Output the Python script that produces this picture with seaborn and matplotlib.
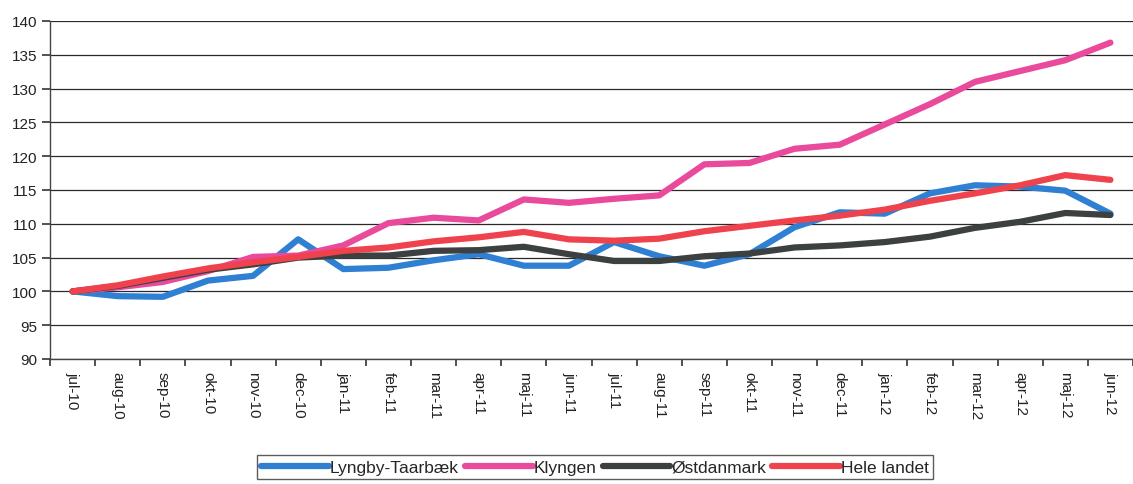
import pandas as pd
import matplotlib.pyplot as plt
import seaborn as sns

# Måneder jul-10 .. jun-12
maaneder = ["jul-10", "aug-10", "sep-10", "okt-10", "nov-10", "dec-10",
            "jan-11", "feb-11", "mar-11", "apr-11", "maj-11", "jun-11",
            "jul-11", "aug-11", "sep-11", "okt-11", "nov-11", "dec-11",
            "jan-12", "feb-12", "mar-12", "apr-12", "maj-12", "jun-12"]

lyngby = [100, 99.3, 99.2, 101.6, 102.3, 107.7, 103.3, 103.5, 104.6, 105.5, 103.8, 103.8,
          107.3, 105.2, 103.8, 105.5, 109.5, 111.7, 111.5, 114.5, 115.7, 115.5, 114.9, 111.5]
klyngen = [100, 100.6, 101.4, 103.0, 105.1, 105.3, 106.8, 110.1, 110.9, 110.5, 113.6, 113.1,
           113.7, 114.2, 118.8, 119.0, 121.1, 121.7, 124.7, 127.7, 131.0, 132.6, 134.2, 136.8]
oestdanmark = [100, 100.8, 102.0, 103.2, 104.0, 105.0, 105.3, 105.3, 106.0, 106.1, 106.6, 105.5,
               104.5, 104.5, 105.2, 105.6, 106.5, 106.8, 107.3, 108.1, 109.4, 110.3, 111.6, 111.3]
hele_landet = [100, 100.9, 102.2, 103.4, 104.3, 105.1, 106.0, 106.5, 107.4, 108.0, 108.8, 107.7,
               107.5, 107.8, 108.9, 109.7, 110.5, 111.2, 112.1, 113.4, 114.5, 115.7, 117.2, 116.5]

serier = {"Lyngby-Taarbæk": lyngby, "Klyngen": klyngen,
          "Østdanmark": oestdanmark, "Hele landet": hele_landet}
farver = {"Lyngby-Taarbæk": "#2f7fd3", "Klyngen": "#ea4a9c",
          "Østdanmark": "#3d4040", "Hele landet": "#f0424c"}

rows = []
for navn, vaerdier in serier.items():
    for i, v in enumerate(vaerdier):
        rows.append({"pos": i, "vaerdi": v, "serie": navn})
df = pd.DataFrame(rows)

sns.set_style("white")
plt.rcParams["font.family"] = ["Liberation Sans", "DejaVu Sans"]

fig = plt.figure(figsize=(11.33, 4.85), dpi=100)
ax = fig.add_axes([50 / 1133, 1 - 360 / 485, 1 - 50 / 1133, (360 - 22) / 485])

sns.lineplot(data=df, x="pos", y="vaerdi", hue="serie", palette=farver,
             linewidth=4.5, ax=ax, legend=False, zorder=3)

# akser
ax.set_ylim(90, 140)
ax.set_yticks(range(90, 141, 5))
ax.set_xlim(-0.5, 23.22)
ax.set_xticks(range(len(maaneder)))
ax.set_xticklabels(maaneder, rotation=-90, fontsize=11, color="#222222")
ax.set_xticks([i - 0.5 for i in range(len(maaneder) + 1)], minor=True)
ax.tick_params(axis="x", which="major", bottom=True, length=0, pad=9)
ax.tick_params(axis="x", which="minor", bottom=True, length=5, width=1.2,
               color="#333333", direction="out")
ax.tick_params(axis="y", left=True, length=6, width=1.2, color="#333333", direction="out",
               labelsize=11, labelcolor="#222222", pad=3)
ax.set_xlabel("")
ax.set_ylabel("")

ax.grid(axis="y", color="#2a2a2a", linewidth=0.9)
ax.grid(axis="x", visible=False)
for s in ["top", "right"]:
    ax.spines[s].set_visible(False)
for s in ["left", "bottom"]:
    ax.spines[s].set_color("#444444")
    ax.spines[s].set_linewidth(1.0)

# legend
handles = [plt.Line2D([], [], color=farver[n], linewidth=4.5) for n in serier]
leg = fig.legend(handles, list(serier), loc="center", bbox_to_anchor=(595 / 1133, 1 - 468 / 485),
                 ncol=4, frameon=True, fancybox=False, edgecolor="#333333", fontsize=12.5,
                 handlelength=3.9, handletextpad=0.05, columnspacing=0.35, borderpad=0.25)
leg.get_frame().set_linewidth(1.0)

fig.savefig("out.png", dpi=100)
